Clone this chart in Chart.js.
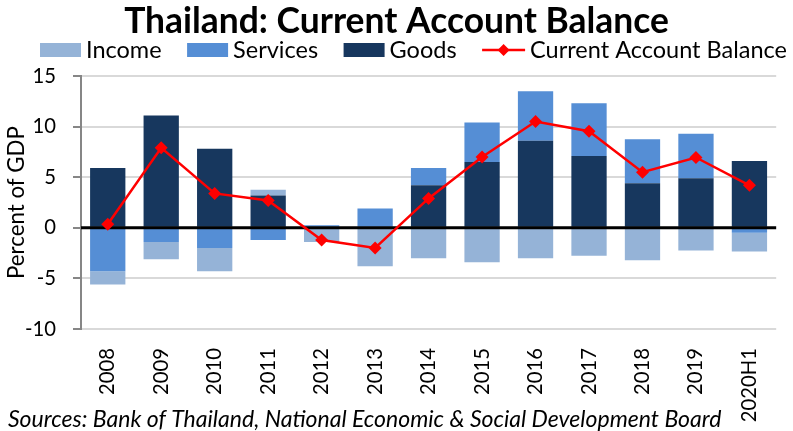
<!DOCTYPE html>
<html>
<head>
<meta charset="utf-8">
<script src="https://cdn.jsdelivr.net/npm/chart.js@4.4.0/dist/chart.umd.min.js"></script>
<style>
html,body{margin:0;padding:0;background:#fff;}
#wrap{width:793px;height:431px;position:relative;}
</style>
</head>
<body>
<div id="wrap"><canvas id="c" width="793" height="431"></canvas></div>
<script>
// ---- data ----
const categories = ['2008','2009','2010','2011','2012','2013','2014','2015','2016','2017','2018','2019','2020H1'];
const goods          = [5.9, 11.1, 7.8, 3.2, 0.0, 0.0, 4.2, 6.5, 8.6, 7.1, 4.4, 4.9, 6.6];
const services       = [-4.3, -1.4, -2.0, -1.2, 0.25, 1.9, 1.7, 3.9, 4.9, 5.2, 4.35, 4.4, -0.5];
const income         = [-1.3, -1.7, -2.3, 0.55, -1.4, -3.8, -3.0, -3.4, -3.0, -2.75, -3.2, -2.25, -1.85];
const currentAccount = [0.35, 7.9, 3.4, 2.7, -1.2, -2.0, 2.9, 7.0, 10.5, 9.55, 5.5, 6.95, 4.2];
const yTickValues = [-10, -5, 0, 5, 10, 15];
const seriesNames = ['Income', 'Services', 'Goods', 'Current Account Balance'];
const titleText = 'Thailand: Current Account Balance';
const yAxisTitle = 'Percent of GDP';
const sourceText = 'Sources: Bank of Thailand, National Economic & Social Development Board';

// ---- styles ----
const COLORS = { income: '#95B3D7', services: '#558ED5', goods: '#17375E', ca: '#FF0000' };
const FAMILY = 'Lato, "Open Sans", sans-serif';

function fitSize(text, target, weight, style) {
  const c = document.createElement('canvas').getContext('2d');
  c.font = `${style || 'normal'} ${weight || 'normal'} 100px ${FAMILY}`;
  return 100 * target / c.measureText(text).width;
}
const titleSize  = fitSize(titleText, 545, 'bold');
const legendSize = fitSize(seriesNames[3], 257);
const tickSize   = fitSize('2008', 47);
const yTitleSize = fitSize(yAxisTitle, 153);
const sourceSize = fitSize(sourceText, 714, 'normal', 'italic');

Chart.defaults.font.family = FAMILY;
Chart.defaults.color = '#000';

const LINE_INDEX = 3;

const zeroLinePlugin = {
  id: 'zeroLine',
  beforeDatasetDraw(chart, args) {
    if (args.index !== LINE_INDEX) return;
    const y = chart.scales.y.getPixelForValue(0);
    const ctx = chart.ctx;
    ctx.save();
    ctx.strokeStyle = '#000';
    ctx.lineWidth = 3;
    ctx.beginPath();
    ctx.moveTo(chart.chartArea.left, y);
    ctx.lineTo(chart.chartArea.right, y);
    ctx.stroke();
    ctx.restore();
  }
};

const legendPlugin = {
  id: 'customLegend',
  afterDraw(chart) {
    const ctx = chart.ctx;
    const ds = chart.data.datasets;
    const items = [ds[2], ds[1], ds[0], ds[3]];
    ctx.save();
    ctx.font = `${legendSize}px ${FAMILY}`;
    ctx.textBaseline = 'middle';
    ctx.textAlign = 'left';
    let x = 40;
    const cy = 50;
    items.forEach(d => {
      let w;
      if (d.type === 'line') {
        w = 43;
        ctx.strokeStyle = d.borderColor;
        ctx.lineWidth = 2.5;
        ctx.beginPath();
        ctx.moveTo(x, cy); ctx.lineTo(x + w, cy); ctx.stroke();
        ctx.fillStyle = d.pointBackgroundColor;
        const r = 6;
        ctx.beginPath();
        ctx.moveTo(x + w / 2, cy - r); ctx.lineTo(x + w / 2 + r, cy);
        ctx.lineTo(x + w / 2, cy + r); ctx.lineTo(x + w / 2 - r, cy);
        ctx.closePath(); ctx.fill();
      } else {
        w = 41;
        ctx.fillStyle = d.backgroundColor;
        ctx.fillRect(x, cy - 7, w, 14);
      }
      x += w + 5;
      ctx.fillStyle = '#000';
      ctx.fillText(d.label, x, cy);
      x += ctx.measureText(d.label).width + 25.5;
    });
    ctx.restore();
  }
};

const sourcePlugin = {
  id: 'sourceNote',
  afterDraw(chart) {
    const ctx = chart.ctx;
    ctx.save();
    ctx.font = `italic ${sourceSize}px ${FAMILY}`;
    ctx.fillStyle = '#000';
    ctx.textBaseline = 'alphabetic';
    ctx.textAlign = 'left';
    ctx.fillText(sourceText, 8, 427);
    ctx.restore();
  }
};

new Chart(document.getElementById('c'), {
  type: 'bar',
  data: {
    labels: categories,
    datasets: [
      { label: seriesNames[2], data: goods, backgroundColor: COLORS.goods, stack: 'bars', order: 1 },
      { label: seriesNames[1], data: services, backgroundColor: COLORS.services, stack: 'bars', order: 1 },
      { label: seriesNames[0], data: income, backgroundColor: COLORS.income, stack: 'bars', order: 1 },
      { label: seriesNames[3], data: currentAccount, type: 'line', stack: 'line', order: 0,
        borderColor: COLORS.ca, borderWidth: 2.5, backgroundColor: COLORS.ca,
        pointStyle: 'rectRot', pointRadius: 6.5, pointBackgroundColor: COLORS.ca,
        pointBorderWidth: 0, tension: 0, fill: false }
    ]
  },
  options: {
    responsive: false,
    animation: false,
    layout: { padding: { left: 0, right: 0, top: 0, bottom: 0 } },
    datasets: { bar: { categoryPercentage: 1.0, barPercentage: 0.66 } },
    plugins: {
      legend: { display: false },
      tooltip: { enabled: false },
      title: {
        display: true,
        text: titleText,
        color: '#000',
        font: { size: titleSize, weight: 'bold', lineHeight: 1.2 },
        padding: { top: 0, bottom: 76 - titleSize * 1.2 }
      }
    },
    scales: {
      x: {
        stacked: true,
        grid: { display: false, drawTicks: false },
        border: { display: false },
        ticks: { minRotation: 90, maxRotation: 90, autoSkip: false, padding: 19,
                 font: { size: tickSize }, color: '#000' },
        afterFit(scale) { scale.height = 102; }
      },
      y: {
        stacked: true,
        min: -10, max: 15,
        afterBuildTicks(scale) { scale.ticks = yTickValues.map(v => ({ value: v })); },
        grid: {
          color: c => (c.tick && c.tick.value === 0) ? 'rgba(0,0,0,0)' : '#D9D9D9',
          lineWidth: 2,
          tickColor: '#868686',
          tickLength: 8,
          drawTicks: true
        },
        border: { display: true, color: '#868686', width: 2 },
        ticks: { padding: 17, font: { size: tickSize }, color: '#000' },
        title: { display: true, text: yAxisTitle, color: '#000',
                 font: { size: yTitleSize }, padding: { top: 3, bottom: 0 } },
        afterFit(scale) { scale.width = 81; }
      }
    }
  },
  plugins: [zeroLinePlugin, legendPlugin, sourcePlugin]
});
</script>
</body>
</html>
